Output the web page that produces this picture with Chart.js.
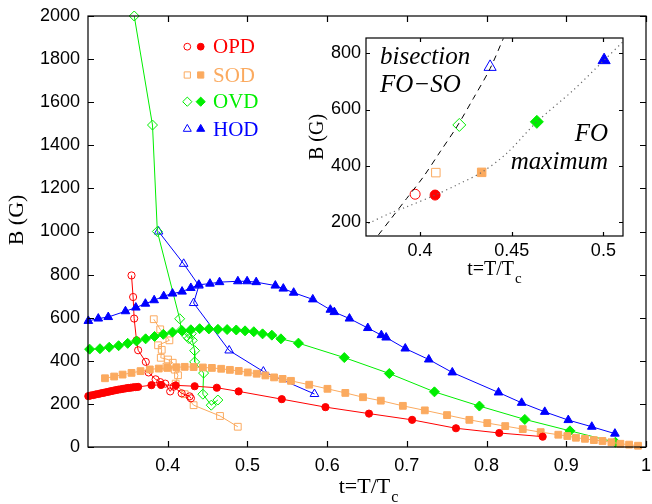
<!DOCTYPE html>
<html><head><meta charset="utf-8">
<script src="https://cdn.jsdelivr.net/npm/chart.js@4.4.1/dist/chart.umd.min.js"></script>
<style>
html,body{margin:0;padding:0;background:#fff;}
#wrap{position:relative;width:652px;height:504px;overflow:hidden;}
#main{position:absolute;left:0;top:0;}
#inset{position:absolute;left:300px;top:25px;}
</style></head><body>
<div id="wrap"><canvas id="main" width="652" height="504"></canvas><canvas id="inset" width="345" height="270"></canvas></div>
<script>
// ---------------- main chart data ----------------
const xTicks = [0.4,0.5,0.6,0.7,0.8,0.9,1.0];
const xTickLabels = ['0.4','0.5','0.6','0.7','0.8','0.9','1'];
const yTicks = [0,200,400,600,800,1000,1200,1400,1600,1800,2000];
const yTickLabels = ['0','200','400','600','800','1000','1200','1400','1600','1800','2000'];
const seriesNames = ['OPD','SOD','OVD','HOD'];

// OPD (filled = FO line, open = branch)
const opdFilledT = [0.3004,0.3035,0.3066,0.3098,0.3129,0.3160,0.3191,0.3223,0.3254,0.3285,0.3316,0.3348,0.3379,0.3410,0.3441,0.3473,0.3504,0.3535,0.3566,0.3598,0.3629,0.3796,0.3916,0.4100,0.4338,0.4616,0.4890,0.5431,0.5979,0.6525,0.7066,0.7616,0.8159,0.8704];
const opdFilledB = [236,239,241,244,246,249,251,254,256,259,261,264,266,268,270,272,274,275,277,278,279,287,288,286,282,275,258,222,185,155,126,87,65,48];
const opdOpenT = [0.3546,0.3566,0.3579,0.3609,0.3629,0.3725,0.3760,0.3848,0.3906,0.3969,0.4031,0.4075,0.4175,0.4275,0.4291];
const opdOpenB = [796,696,596,495,449,395,346,314,301,294,258,280,249,235,226];

// SOD
const sodFilledT = [0.3213,0.3328,0.3434,0.3546,0.3659,0.3775,0.3888,0.3996,0.4109,0.4213,0.4325,0.4441,0.4554,0.4671,0.4780,0.4891,0.5004,0.5116,0.5225,0.5334,0.5441,0.5546,0.5775,0.6004,0.6228,0.6450,0.6673,0.6950,0.7225,0.7504,0.7784,0.8009,0.8234,0.8454,0.8679,0.8900,0.9013,0.9121,0.9234,0.9346,0.9454,0.9566,0.9679,0.9788,0.9900];
const sodFilledB = [319,327,336,344,352,360,364,367,370,372,371,369,367,363,358,353,346,340,332,323,316,307,289,270,251,231,215,191,170,148,126,111,97,83,69,57,51,43,38,32,28,22,15,11,6];
const sodOpenT = [0.3825,0.3906,0.4021,0.3879,0.3925,0.3913,0.4004,0.4063,0.3984,0.4088,0.4129,0.4100,0.4213,0.4325,0.4656,0.4879];
const sodOpenB = [593,546,495,472,451,414,406,391,373,359,333,294,245,194,144,94];

// OVD
const ovdFilledT = [0.3020,0.3150,0.3266,0.3384,0.3498,0.3609,0.3723,0.3835,0.3945,0.4060,0.4180,0.4290,0.4400,0.4516,0.4630,0.4745,0.4860,0.4970,0.5080,0.5190,0.5306,0.5420,0.5640,0.6215,0.6780,0.7346,0.7910,0.8480,0.9046,0.9616];
const ovdFilledB = [454,456,463,470,481,492,502,513,523,533,539,544,549,548,546,545,543,539,535,525,519,502,482,415,341,256,190,128,75,22];
const ovdOpenT = [0.3580,0.3809,0.3870,0.4150,0.4171,0.4241,0.4266,0.4296,0.4309,0.4338,0.4338,0.4450,0.4441,0.4546,0.4629];
const ovdOpenB = [2000,1494,1000,595,542,514,503,526,495,447,395,343,245,194,218];

// HOD
const hodFilledT = [0.3004,0.3129,0.3254,0.3470,0.3600,0.3720,0.3830,0.3950,0.4060,0.4180,0.4290,0.4390,0.4530,0.4650,0.4880,0.4996,0.5110,0.5350,0.5450,0.5580,0.5820,0.6040,0.6090,0.6280,0.6510,0.6680,0.6740,0.6980,0.7275,0.7570,0.8150,0.8440,0.8730,0.9025,0.9320,0.9610];
const hodFilledB = [585,596,603,630,647,665,681,700,712,721,738,753,758,765,769,769,765,749,735,716,685,637,626,596,552,519,508,457,406,346,253,205,163,125,94,62];
const hodOpenT = [0.3885,0.4200,0.4391,0.4325,0.4771,0.5200,0.5841];
const hodOpenB = [1000,850,749,668,448,350,246];

// ---------------- inset data ----------------
const insetXTicks = [0.4,0.45,0.5];
const insetXTickLabels = ['0.4','0.45','0.5'];
const insetYTicks = [200,400,600,800];
const insetYTickLabels = ['200','400','600','800'];
const bisectT = [0.3773,0.3836,0.3927,0.4018,0.4109,0.4200,0.4291,0.4382,0.4454];
const bisectB = [153,206,283,360,449,538,640,746,853];
const foMaxT = [0.3718,0.3836,0.3927,0.4082,0.4200,0.4336,0.4473,0.4637,0.4836,0.5004,0.5106];
const foMaxB = [194,230,253,295,331,376,444,556,669,776,841];
const insetOpenT = [0.3973,0.4086,0.4214,0.4382];
const insetOpenB = [298,375,545,752];
const insetFilledT = [0.4082,0.4336,0.4637,0.5004];
const insetFilledB = [295,376,556,776];

// ---------------- styles ----------------
const COLORS = ['#ff0000','#fbaa5f','#00ee00','#0000ff'];
const STYLES = ['circle','rect','rectRot','triangle'];
const MAIN_R = [3.6,4.8,5,5];
const INSET_R = [5,6,6.5,7];
const NONE = 'rgba(0,0,0,0)';
const SERIF = '"Liberation Serif","Times New Roman",serif';
const SANS = '"Liberation Sans",Arial,sans-serif';

function pts(t,b){ return t.map((v,i)=>({x:v,y:b[i]})); }
function series(t,b,k,filled,r,line){
  return {data:pts(t,b), showLine:line, borderColor:COLORS[k], borderWidth:1,
    pointStyle:STYLES[k], pointRadius:r, pointHoverRadius:r, pointBorderWidth:1,
    pointBorderColor:COLORS[k], pointBackgroundColor: filled?COLORS[k]:NONE,
    backgroundColor: filled?COLORS[k]:NONE, fill:false, tension:0, clip:false};
}
function labelFor(vals, labels){ return v => { const i = vals.findIndex(t=>Math.abs(t-v)<1e-9); return i<0?'':labels[i]; }; }
function noPad(s){ s.paddingLeft=0; s.paddingRight=0; s.paddingTop=0; s.paddingBottom=0; }

const framePlugin = {
  id:'frame',
  beforeDatasetsDraw(chart, a, o){
    if(o.white){ const c=chart.chartArea; const ctx=chart.ctx; ctx.save(); ctx.fillStyle='#fff'; ctx.fillRect(c.left,c.top,c.right-c.left,c.bottom-c.top); ctx.restore(); }
  },
  afterDraw(chart, a, o){
    const ctx=chart.ctx, c=chart.chartArea, L=o.len;
    ctx.save(); ctx.strokeStyle='#000'; ctx.lineWidth=1.2;
    ctx.strokeRect(c.left, c.top, c.right-c.left, c.bottom-c.top);
    ctx.beginPath();
    chart.scales.x.ticks.forEach(t=>{ const p=Math.round(chart.scales.x.getPixelForValue(t.value))+0.5;
      ctx.moveTo(p,c.bottom); ctx.lineTo(p,c.bottom-L); ctx.moveTo(p,c.top); ctx.lineTo(p,c.top+L); });
    chart.scales.y.ticks.forEach(t=>{ const p=Math.round(chart.scales.y.getPixelForValue(t.value))+0.5;
      ctx.moveTo(c.left,p); ctx.lineTo(c.left+L,p); ctx.moveTo(c.right,p); ctx.lineTo(c.right-L,p); });
    ctx.stroke(); ctx.restore();
  }
};
const titlePlugin = {
  id:'titles',
  afterDraw(chart, a, o){
    const ctx=chart.ctx; ctx.save(); ctx.fillStyle='#000';
    ctx.textBaseline='alphabetic'; ctx.textAlign='left';
    ctx.font=o.size+'px '+SERIF; const w1=ctx.measureText('t=T/T').width;
    ctx.font=o.subSize+'px '+SERIF; const w2=ctx.measureText('c').width;
    const x0=o.xcx-(w1+w2)/2;
    ctx.font=o.size+'px '+SERIF; ctx.fillText('t=T/T',x0,o.xBase);
    ctx.font=o.subSize+'px '+SERIF; ctx.fillText('c',x0+w1+1,o.xBase+o.subDrop);
    ctx.translate(o.ycx,o.ycy); ctx.rotate(-Math.PI/2);
    ctx.textAlign='center'; ctx.textBaseline='middle';
    ctx.font=o.size+'px '+SERIF; ctx.fillText('B (G)',0,0);
    ctx.restore();
  }
};
const legendPlugin = {
  id:'seriesLegend',
  afterDraw(chart){
    const ctx=chart.ctx; const rows=[46.7,75,101.7,129];
    ctx.save();
    seriesNames.forEach((n,k)=>{
      const y=rows[k];
      const r=[3.4,4.4,4.6,4.6][k];
      ctx.lineWidth=1; ctx.strokeStyle=COLORS[k];
      ctx.fillStyle=NONE; Chart.helpers.drawPoint(ctx,{pointStyle:STYLES[k],radius:r,borderWidth:1,rotation:0},187.3,y);
      ctx.fillStyle=COLORS[k]; Chart.helpers.drawPoint(ctx,{pointStyle:STYLES[k],radius:r,borderWidth:1,rotation:0},200.7,y);
      ctx.font='21px '+SERIF; ctx.textAlign='left'; ctx.textBaseline='middle';
      ctx.fillText(n,213,y+1);
    });
    ctx.restore();
  }
};
const insetTextPlugin = {
  id:'insetText',
  afterDatasetsDraw(chart){
    const ctx=chart.ctx; ctx.save(); ctx.fillStyle='#000';
    ctx.font='italic 25px '+SERIF; ctx.textBaseline='alphabetic';
    ctx.textAlign='left';
    ctx.fillText('bisection',80,39);
    ctx.fillText('FO\u2212SO',80,67);
    ctx.textAlign='right';
    ctx.fillText('FO',308,116);
    ctx.fillText('maximum',308,144);
    ctx.restore();
  }
};

const mainDatasets = [
  series(opdFilledT,opdFilledB,0,true,MAIN_R[0],true),
  series(sodFilledT,sodFilledB,1,true,MAIN_R[1],true),
  series(ovdFilledT,ovdFilledB,2,true,MAIN_R[2],true),
  series(hodFilledT,hodFilledB,3,true,MAIN_R[3],true),
  series(opdOpenT,opdOpenB,0,false,MAIN_R[0],true),
  series(sodOpenT,sodOpenB,1,false,MAIN_R[1],true),
  series(ovdOpenT,ovdOpenB,2,false,MAIN_R[2],true),
  series(hodOpenT,hodOpenB,3,false,MAIN_R[3],true)
];

new Chart(document.getElementById('main'), {
  type:'line',
  data:{datasets:mainDatasets},
  options:{
    responsive:false, animation:false, devicePixelRatio:1,
    layout:{padding:{top:16,right:4,left:0,bottom:0}},
    plugins:{legend:{display:false},tooltip:{enabled:false},
      frame:{len:6},
      titles:{size:22,subSize:16,subDrop:9,xcx:368,xBase:493,ycx:17,ycy:220}},
    scales:{
      x:{type:'linear',min:0.3,max:1.0,
        afterBuildTicks:s=>{s.ticks=xTicks.map(v=>({value:v}));},
        afterFit:s=>{s.height=57; noPad(s);},
        ticks:{callback:labelFor(xTicks,xTickLabels),font:{family:SANS,size:18},color:'#000',padding:8,maxRotation:0,autoSkip:false},
        grid:{display:false,drawTicks:false},border:{display:false}},
      y:{type:'linear',min:0,max:2000,
        afterBuildTicks:s=>{s.ticks=yTicks.map(v=>({value:v}));},
        afterFit:s=>{s.width=88; noPad(s);},
        ticks:{callback:labelFor(yTicks,yTickLabels),font:{family:SANS,size:18},color:'#000',padding:8,autoSkip:false},
        grid:{display:false,drawTicks:false},border:{display:false}}
    }
  },
  plugins:[framePlugin,titlePlugin,legendPlugin]
});

const insetDatasets = [
  {data:pts(bisectT,bisectB),showLine:true,borderColor:'#000',borderWidth:1,borderDash:[6,5],pointRadius:0,fill:false,tension:0.3},
  {data:pts(foMaxT,foMaxB),showLine:true,borderColor:'#666',borderWidth:1.2,borderDash:[1.2,3.5],pointRadius:0,fill:false,tension:0.3}
];
insetOpenT.forEach((t,k)=>insetDatasets.push(series([t],[insetOpenB[k]],k,false,INSET_R[k],false)));
insetFilledT.forEach((t,k)=>insetDatasets.push(series([t],[insetFilledB[k]],k,true,INSET_R[k],false)));

new Chart(document.getElementById('inset'), {
  type:'line',
  data:{datasets:insetDatasets},
  options:{
    responsive:false, animation:false, devicePixelRatio:1,
    layout:{padding:{top:13,right:22,left:0,bottom:0}},
    plugins:{legend:{display:false},tooltip:{enabled:false},
      frame:{len:4,white:true},
      titles:{size:20,subSize:15,subDrop:8,xcx:194,xBase:250,ycx:18,ycy:112}},
    scales:{
      x:{type:'linear',min:0.3705,max:0.5107,
        afterBuildTicks:s=>{s.ticks=insetXTicks.map(v=>({value:v}));},
        afterFit:s=>{s.height=59; noPad(s);},
        ticks:{callback:labelFor(insetXTicks,insetXTickLabels),font:{family:SANS,size:18},color:'#000',padding:4,maxRotation:0,autoSkip:false},
        grid:{display:false,drawTicks:false},border:{display:false}},
      y:{type:'linear',min:149,max:855,
        afterBuildTicks:s=>{s.ticks=insetYTicks.map(v=>({value:v}));},
        afterFit:s=>{s.width=66; noPad(s);},
        ticks:{callback:labelFor(insetYTicks,insetYTickLabels),font:{family:SANS,size:18},color:'#000',padding:5,autoSkip:false},
        grid:{display:false,drawTicks:false},border:{display:false}}
    }
  },
  plugins:[framePlugin,titlePlugin,insetTextPlugin]
});
</script>
</body></html>
